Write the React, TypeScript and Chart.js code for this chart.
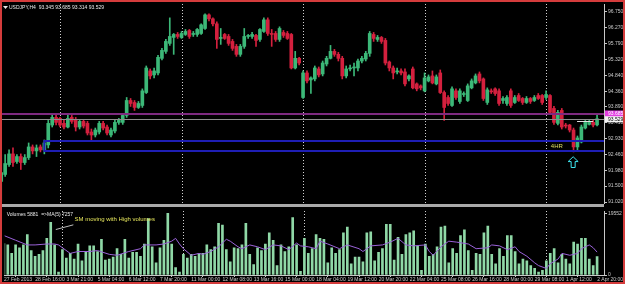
import React, { useEffect, useRef } from "react";
import { Chart, registerables } from "chart.js";

Chart.register(...registerables);

// ---------------- data ----------------
const SYMBOL = "USDJPY,H4";

const OPEN = [
  91.70, 91.64, 91.85, 92.15, 92.47, 92.24, 92.39, 92.21, 92.36, 92.68,
  92.56, 92.68, 92.59, 92.74, 93.34, 93.57, 93.54, 93.39, 93.28, 93.57,
  93.51, 93.28, 93.45, 93.39, 93.13, 93.04, 93.13, 93.39, 93.28, 93.04,
  93.16, 93.42, 93.42, 93.63, 94.08, 94.02, 93.87, 93.93, 94.32, 94.97,
  94.85, 94.91, 95.35, 95.56, 95.80, 95.98, 96.07, 95.98, 96.07, 96.19,
  96.07, 96.07, 96.10, 96.25, 96.66, 96.54, 96.39, 95.95, 96.07, 96.01,
  95.86, 95.71, 95.47, 95.71, 96.01, 96.01, 96.04, 95.92, 96.16, 96.51,
  96.10, 96.10, 95.92, 96.13, 96.10, 96.07, 95.06, 95.35, 94.17, 94.91,
  94.70, 94.73, 95.03, 94.88, 95.18, 95.35, 95.56, 95.47, 95.35, 94.82,
  95.03, 95.06, 95.06, 95.27, 95.33, 95.50, 96.07, 95.92, 95.98, 95.89,
  95.24, 95.06, 94.94, 94.97, 94.94, 94.73, 95.03, 94.58, 94.52, 94.37,
  94.67, 94.82, 94.58, 94.91, 94.32, 94.17, 93.93, 94.37, 94.05, 94.26,
  94.08, 94.46, 94.61, 94.88, 94.73, 94.02, 94.37, 94.43, 94.37, 94.08,
  93.99, 94.37, 94.02, 94.23, 94.14, 94.02, 94.14, 94.08, 94.23, 94.23,
  94.17, 94.23, 93.84, 93.39, 93.78, 93.34, 93.34, 93.19, 92.68, 92.83,
  93.25, 93.36, 93.42, 93.345,
];
const HIGH = [
  92.10, 92.45, 92.45, 92.59, 92.65, 92.45, 92.47, 92.45, 92.80, 92.74,
  92.74, 92.74, 92.89, 93.48, 93.66, 93.63, 93.57, 93.48, 93.63, 93.63,
  93.57, 93.51, 93.51, 93.45, 93.22, 93.25, 93.45, 93.45, 93.34, 93.25,
  93.48, 93.54, 93.69, 94.17, 94.14, 94.08, 94.05, 94.43, 95.12, 95.03,
  95.06, 95.44, 95.65, 95.92, 96.57, 96.10, 96.13, 96.16, 96.22, 96.22,
  96.16, 96.25, 96.39, 96.69, 96.69, 96.57, 96.45, 96.25, 96.10, 96.07,
  95.92, 95.77, 95.77, 96.25, 96.07, 96.13, 96.07, 96.25, 96.57, 96.57,
  96.22, 96.16, 96.30, 96.19, 96.16, 96.10, 95.56, 95.38, 94.97, 94.97,
  94.79, 95.12, 95.09, 95.27, 95.41, 95.74, 95.62, 95.53, 95.41, 95.12,
  95.15, 95.21, 95.33, 95.41, 95.56, 96.16, 96.13, 96.04, 96.01, 95.95,
  95.27, 95.12, 95.06, 95.03, 95.03, 94.85, 95.09, 94.61, 94.55, 94.91,
  94.85, 94.97, 94.85, 95.00, 94.37, 94.23, 94.49, 94.43, 94.43, 94.34,
  94.58, 94.73, 94.88, 94.94, 94.76, 94.46, 94.43, 94.46, 94.43, 94.20,
  94.23, 94.43, 94.23, 94.29, 94.17, 94.20, 94.17, 94.23, 94.29, 94.26,
  94.37, 94.26, 93.90, 93.78, 93.84, 93.39, 93.36, 93.25, 93.01, 93.34,
  93.48, 93.48, 93.51, 93.685,
];
const LOW = [
  91.30, 91.02, 91.79, 92.09, 92.09, 92.18, 92.00, 92.15, 92.30, 92.47,
  92.39, 92.53, 92.47, 92.65, 93.28, 93.34, 93.28, 93.22, 93.25, 93.39,
  93.16, 93.22, 93.25, 93.04, 92.89, 92.98, 93.07, 93.19, 93.04, 92.98,
  93.10, 93.36, 93.36, 93.57, 93.90, 93.78, 93.84, 93.87, 94.29, 94.73,
  94.76, 94.85, 95.30, 95.50, 95.74, 95.47, 95.95, 95.95, 96.04, 95.95,
  96.01, 96.01, 96.07, 96.22, 96.48, 96.33, 95.65, 95.77, 95.92, 95.74,
  95.59, 95.41, 95.41, 95.65, 95.95, 95.95, 95.71, 95.86, 96.13, 96.04,
  95.71, 95.86, 95.86, 95.98, 95.92, 95.03, 95.03, 95.15, 94.14, 94.61,
  94.29, 94.67, 94.79, 94.82, 95.12, 95.33, 95.41, 95.27, 94.73, 94.76,
  94.97, 94.82, 94.97, 95.21, 95.27, 95.41, 95.86, 95.86, 95.80, 95.15,
  94.97, 94.73, 94.88, 94.85, 94.52, 94.67, 94.43, 94.37, 94.40, 94.34,
  94.64, 94.58, 94.55, 94.29, 93.48, 93.93, 93.90, 94.11, 93.99, 94.20,
  94.05, 94.43, 94.58, 94.61, 94.08, 93.96, 94.29, 94.23, 93.93, 93.99,
  93.93, 93.87, 93.99, 94.05, 93.96, 93.99, 93.99, 94.05, 94.11, 93.96,
  94.11, 93.66, 93.36, 93.34, 93.22, 93.25, 93.13, 92.53, 92.59, 92.80,
  93.22, 93.34, 93.28, 93.314,
];
const CLOSE = [
  91.62, 91.91, 92.18, 92.47, 92.21, 92.39, 92.21, 92.36, 92.68, 92.56,
  92.65, 92.59, 92.80, 93.39, 93.57, 93.42, 93.34, 93.28, 93.54, 93.45,
  93.28, 93.45, 93.31, 93.10, 93.04, 93.19, 93.39, 93.25, 93.10, 93.19,
  93.42, 93.48, 93.63, 94.08, 93.99, 93.87, 93.99, 94.37, 95.06, 94.82,
  94.97, 95.38, 95.59, 95.86, 96.01, 96.07, 96.01, 96.10, 96.16, 96.01,
  96.10, 96.22, 96.36, 96.66, 96.54, 96.39, 95.92, 95.98, 95.95, 95.80,
  95.65, 95.47, 95.71, 96.01, 96.04, 96.07, 95.89, 96.22, 96.51, 96.10,
  96.07, 95.92, 96.25, 96.04, 95.95, 95.06, 95.35, 95.21, 94.91, 94.67,
  94.76, 95.06, 94.85, 95.21, 95.35, 95.56, 95.47, 95.35, 94.82, 95.03,
  95.06, 95.09, 95.27, 95.35, 95.50, 96.10, 95.95, 95.98, 95.86, 95.21,
  95.06, 94.91, 94.97, 94.91, 94.58, 94.82, 94.46, 94.43, 94.46, 94.76,
  94.79, 94.61, 94.79, 94.32, 93.87, 93.99, 94.43, 94.17, 94.37, 94.29,
  94.52, 94.67, 94.82, 94.67, 94.14, 94.40, 94.34, 94.29, 93.99, 94.14,
  94.17, 93.93, 94.17, 94.08, 94.02, 94.14, 94.05, 94.17, 94.14, 94.02,
  94.26, 93.72, 93.42, 93.72, 93.28, 93.31, 93.19, 92.68, 92.95, 93.28,
  93.42, 93.42, 93.34, 93.529,
];
const VOLUME = [
  8000, 10000, 9536, 6854, 9536, 8642, 9536, 12814, 7748, 5960,
  6556, 7748, 11622, 16688, 9536, 894, 8046, 5364, 6854, 5066,
  9834, 4470, 7450, 9238, 9238, 7450, 11324, 4768, 5066, 5662,
  8344, 6556, 11324, 5364, 7152, 7152, 5960, 9834, 17880, 8940,
  3874, 8642, 11026, 19552, 9834, 2384, 894, 6556, 5364, 6556,
  5960, 6854, 6854, 9536, 8046, 8940, 16390, 15794, 8046, 4172,
  8642, 8344, 9536, 16390, 6556, 3278, 8642, 7748, 9834, 13410,
  11026, 2980, 9536, 7450, 8940, 18178, 9536, 1192, 11622, 6854,
  8344, 12814, 11622, 11324, 3874, 8642, 6854, 8046, 13410, 15198,
  3576, 5662, 5662, 4172, 13410, 13708, 4470, 7152, 8344, 16092,
  16092, 4768, 11920, 6556, 12814, 13410, 14006, 9238, 1490, 9834,
  5960, 6556, 8940, 15198, 15496, 3874, 8344, 6854, 12516, 14304,
  7748, 1490, 6854, 6556, 13410, 15496, 6556, 3576, 8344, 5960,
  12516, 12516, 7450, 3576, 5066, 4470, 2980, 2086, 894, 1490,
  4470, 6854, 8344, 3874, 6556, 5066, 3576, 10430, 9834, 11622,
  11622, 5066, 2980, 5881,
];
const MA_INDEX = [
  1, 4, 7, 9, 12, 14, 15, 18, 20, 23, 25, 28, 30, 33, 36, 37, 40, 42, 44, 45,
  46, 47, 49, 51, 52, 54, 56, 58, 59, 61, 62, 64, 66, 68, 70, 72, 74, 76, 77, 79,
  81, 82, 84, 87, 89, 92, 93, 95, 98, 100, 102, 104, 106, 109, 110, 111, 113, 115, 117, 120,
  122, 125, 126, 128, 130, 132, 133, 135, 137, 138, 140, 141, 143, 144, 146, 148, 149, 151, 152, 153,
];
const MA_VALUE = [
  12516, 11026, 9536, 9536, 9834, 9834, 9536, 6854, 7450, 7450, 7748, 6556, 6258, 7450, 8344, 9536, 9536, 9834, 10728, 11622,
  9834, 8344, 6258, 6854, 6556, 7450, 8940, 11324, 10728, 8940, 8344, 9536, 8940, 8046, 9536, 9238, 8046, 10132, 9238, 8940,
  8344, 10728, 9834, 8344, 9536, 8344, 7450, 9238, 9536, 10430, 11622, 9536, 9238, 9536, 7450, 6258, 8940, 10728, 10430, 9834,
  8344, 8642, 9536, 9238, 8046, 8940, 7450, 5960, 3874, 2980, 2086, 3576, 5066, 6854, 6258, 6854, 8344, 9536, 8642, 7257,
];
const MA_PERIOD = 5;

const WEEK_START_INDEX = [16, 47, 78, 109, 140];
const TIME_LABEL_INDEX = [0, 8, 16, 24, 32, 40, 48, 56, 64, 72, 80, 88, 96, 104, 112, 120, 128, 136, 144, 152];
const TIME_LABELS = [
  "27 Feb 2013", "28 Feb 16:00", "3 Mar 21:00", "5 Mar 04:00", "6 Mar 12:00",
  "7 Mar 20:00", "11 Mar 00:00", "12 Mar 08:00", "13 Mar 16:00", "15 Mar 00:00",
  "18 Mar 04:00", "19 Mar 12:00", "20 Mar 20:00", "22 Mar 04:00", "25 Mar 08:00",
  "26 Mar 16:00", "28 Mar 00:00", "29 Mar 08:00", "1 Apr 12:00", "2 Apr 20:00",
];
const PRICE_TICKS = [96.75, 96.27, 95.79, 95.32, 94.84, 94.36, 93.89, 93.41, 92.93, 92.46, 91.98, 91.5, 91.02];
const VOLUME_TICKS = [0, 19552];

const MARK_PRICE = 93.685;
const ZONE_START_INDEX = 12;
const ZONE_TOP = 92.86;
const ZONE_BOTTOM = 92.57;
const SEGMENT_INDEX = [147.9, 152];
const SEGMENT_PRICE = 93.454;
const NOTE_4HR = { index: 141.2, price: 92.71, text: "4HR" };
const ARROW_AT = { index: 146.9, top: 92.385, bottom: 92.06 };
const SM_NOTE = { text: "SM moving with High volumes", index: 19.1, volume: 17760 };
const SM_POINTER = { from: [14.3, 14418], to: [18.8, 15910] };

// ---------------- view ----------------
const X_MIN = 1.199;
const X_MAX = 154.77;
const P_MIN = 90.9903;
const P_MAX = 96.9875;
const V_MAX = 20298;
const FONT = '"Liberation Sans", Arial, sans-serif';
const BULL = "#3cb878";
const BEAR = "#d4203e";
const AXIS = "#c8c8c8";

function drawSeparators(chart: any) {
  const { ctx, chartArea: a, scales } = chart;
  const x = scales.x;
  ctx.save();
  ctx.strokeStyle = "#d0d0d0";
  ctx.lineWidth = 1;
  ctx.setLineDash([1, 2]);
  for (const i of WEEK_START_INDEX) {
    const px = Math.round(x.getPixelForValue(i)) + 0.5;
    ctx.beginPath();
    ctx.moveTo(px, a.top);
    ctx.lineTo(px, a.bottom);
    ctx.stroke();
  }
  ctx.restore();
}

const priceOverlay = {
  id: "priceOverlay",
  beforeDatasetsDraw(chart: any) {
    drawSeparators(chart);
  },
  afterDatasetsDraw(chart: any) {
    const { ctx, chartArea: a, scales } = chart;
    const x = scales.x;
    const y = scales.y;
    const last = OPEN.length - 1;
    ctx.save();
    ctx.beginPath();
    ctx.rect(a.left, a.top, a.right - a.left, a.bottom - a.top);
    ctx.clip();
    // purple horizontal line
    const ym = Math.round(y.getPixelForValue(MARK_PRICE));
    ctx.fillStyle = "#7e2a80";
    ctx.fillRect(a.left, ym - 1, a.right - a.left, 2);
    // bid line
    const yb = Math.round(y.getPixelForValue(CLOSE[last])) + 0.5;
    ctx.strokeStyle = "#8e8e8e";
    ctx.lineWidth = 1;
    ctx.beginPath();
    ctx.moveTo(a.left, yb);
    ctx.lineTo(a.right, yb);
    ctx.stroke();
    // blue zone
    const zx = x.getPixelForValue(ZONE_START_INDEX);
    const zt = Math.round(y.getPixelForValue(ZONE_TOP));
    const zb = Math.round(y.getPixelForValue(ZONE_BOTTOM));
    ctx.strokeStyle = "#1e1eb4";
    ctx.lineWidth = 2;
    ctx.strokeRect(zx, zt, a.right + 20 - zx, zb - zt);
    // short white segment
    const sy = Math.round(y.getPixelForValue(SEGMENT_PRICE)) + 0.5;
    ctx.strokeStyle = "#e0e0e0";
    ctx.lineWidth = 1;
    ctx.beginPath();
    ctx.moveTo(x.getPixelForValue(SEGMENT_INDEX[0]), sy);
    ctx.lineTo(x.getPixelForValue(SEGMENT_INDEX[1]), sy);
    ctx.stroke();
    // 4HR
    ctx.fillStyle = "#dede62";
    ctx.font = `6px ${FONT}`;
    ctx.textBaseline = "middle";
    ctx.textAlign = "left";
    ctx.fillText(NOTE_4HR.text, x.getPixelForValue(NOTE_4HR.index), y.getPixelForValue(NOTE_4HR.price));
    // cyan arrow
    const ax = x.getPixelForValue(ARROW_AT.index);
    const at = y.getPixelForValue(ARROW_AT.top);
    const ab = y.getPixelForValue(ARROW_AT.bottom);
    const h = ab - at;
    ctx.strokeStyle = "#3ee6f0";
    ctx.lineWidth = 1;
    ctx.beginPath();
    ctx.moveTo(ax, at);
    ctx.lineTo(ax + 5, at + h * 0.45);
    ctx.lineTo(ax + 2, at + h * 0.45);
    ctx.lineTo(ax + 2, ab);
    ctx.lineTo(ax - 2, ab);
    ctx.lineTo(ax - 2, at + h * 0.45);
    ctx.lineTo(ax - 5, at + h * 0.45);
    ctx.closePath();
    ctx.stroke();
    ctx.restore();

    // title
    ctx.save();
    ctx.fillStyle = "#e8e8e8";
    ctx.beginPath();
    ctx.moveTo(a.left + 1, a.top + 2);
    ctx.lineTo(a.left + 6, a.top + 2);
    ctx.lineTo(a.left + 3.5, a.top + 5);
    ctx.closePath();
    ctx.fill();
    ctx.font = `5px ${FONT}`;
    ctx.textBaseline = "middle";
    ctx.textAlign = "left";
    const title = `${SYMBOL}  ${OPEN[last].toFixed(3)} ${HIGH[last].toFixed(3)} ${LOW[last].toFixed(3)} ${CLOSE[last].toFixed(3)}`;
    ctx.fillText(title, a.left + 7, a.top + 3.5);

    // axis price labels
    const lx = a.right + 1;
    const w = chart.width - lx;
    ctx.fillStyle = "#e23ce0";
    ctx.fillRect(lx, ym - 3.5, w, 6.5);
    ctx.fillStyle = "#ffffff";
    ctx.fillText(MARK_PRICE.toFixed(3), lx + 3, ym);
    const yc = y.getPixelForValue(CLOSE[last]);
    ctx.fillStyle = "#f4f4f4";
    ctx.fillRect(lx, yc - 2.5, w, 6);
    ctx.fillStyle = "#000000";
    ctx.fillText(CLOSE[last].toFixed(3), lx + 3, yc + 0.5);
    ctx.restore();
  },
};

const volumeOverlay = {
  id: "volumeOverlay",
  beforeDatasetsDraw(chart: any) {
    drawSeparators(chart);
  },
  afterDatasetsDraw(chart: any) {
    const { ctx, chartArea: a, scales } = chart;
    const x = scales.x;
    const y = scales.y;
    const last = VOLUME.length - 1;
    ctx.save();
    ctx.font = `5px ${FONT}`;
    ctx.fillStyle = "#e8e8e8";
    ctx.textBaseline = "middle";
    ctx.textAlign = "left";
    ctx.fillText(`Volumes ${VOLUME[last]}  =>MA(${MA_PERIOD}) ${MA_VALUE[MA_VALUE.length - 1]}`, a.left + 2, a.top + 3.5);
    ctx.strokeStyle = "#bdbdbd";
    ctx.lineWidth = 1;
    ctx.beginPath();
    ctx.moveTo(x.getPixelForValue(SM_POINTER.from[0]), y.getPixelForValue(SM_POINTER.from[1]));
    ctx.lineTo(x.getPixelForValue(SM_POINTER.to[0]), y.getPixelForValue(SM_POINTER.to[1]));
    ctx.stroke();
    ctx.font = `6px ${FONT}`;
    ctx.fillStyle = "#e6e65c";
    ctx.fillText(SM_NOTE.text, x.getPixelForValue(SM_NOTE.index), y.getPixelForValue(SM_NOTE.volume));
    ctx.restore();
  },
};

export default function App() {
  const priceRef = useRef<HTMLCanvasElement | null>(null);
  const volRef = useRef<HTMLCanvasElement | null>(null);

  useEffect(() => {
    const INDEX = OPEN.map((_, i) => i);
    const candleColors = INDEX.map((i) => (CLOSE[i] >= OPEN[i] ? BULL : BEAR));
    const tickFont = { family: FONT, size: 5 };

    const price = new Chart(priceRef.current as HTMLCanvasElement, {
      type: "bar",
      data: {
        datasets: [
          {
            label: "wick",
            data: INDEX.map((i) => ({ x: i, y: [LOW[i], HIGH[i]] })),
            backgroundColor: candleColors,
            barThickness: 1,
            grouped: false,
            minBarLength: 1,
            order: 2,
          } as any,
          {
            label: "body",
            data: INDEX.map((i) => ({ x: i, y: [OPEN[i], CLOSE[i]] })),
            backgroundColor: candleColors,
            barThickness: 3,
            grouped: false,
            minBarLength: 1,
            order: 1,
          } as any,
        ],
      },
      options: {
        animation: false,
        responsive: false,
        maintainAspectRatio: false,
        devicePixelRatio: 1,
        events: [],
        layout: { padding: { left: 2, top: 2, right: 0, bottom: 3 } },
        plugins: { legend: { display: false }, tooltip: { enabled: false } },
        scales: {
          x: { type: "linear", display: false, min: X_MIN, max: X_MAX, offset: false },
          y: {
            type: "linear",
            position: "right",
            min: P_MIN,
            max: P_MAX,
            afterBuildTicks: (s: any) => {
              s.ticks = PRICE_TICKS.map((v) => ({ value: v }));
            },
            afterFit: (s: any) => {
              s.width = 21;
            },
            ticks: {
              autoSkip: false,
              color: AXIS,
              font: tickFont,
              padding: 1,
              callback: (v: any) => Number(v).toFixed(3),
            },
            grid: { drawOnChartArea: false, drawTicks: true, tickLength: 3, color: AXIS },
            border: { display: true, color: AXIS, width: 1 },
          },
        },
      } as any,
      plugins: [priceOverlay],
    });

    const volume = new Chart(volRef.current as HTMLCanvasElement, {
      type: "bar",
      data: {
        datasets: [
          {
            type: "line",
            label: "MA",
            data: MA_INDEX.map((x, k) => ({ x, y: MA_VALUE[k] })),
            borderColor: "#9a62d8",
            borderWidth: 1,
            pointRadius: 0,
            tension: 0,
            order: 1,
          } as any,
          {
            type: "bar",
            label: "Volumes",
            data: INDEX.map((i) => ({ x: i, y: VOLUME[i] })),
            backgroundColor: "#8fd8a6",
            barThickness: 2,
            grouped: false,
            order: 2,
          } as any,
        ],
      },
      options: {
        animation: false,
        responsive: false,
        maintainAspectRatio: false,
        devicePixelRatio: 1,
        events: [],
        layout: { padding: { left: 2, top: 0, right: 0, bottom: 0 } },
        plugins: { legend: { display: false }, tooltip: { enabled: false } },
        scales: {
          x: {
            type: "linear",
            position: "bottom",
            min: X_MIN,
            max: X_MAX,
            offset: false,
            afterBuildTicks: (s: any) => {
              s.ticks = TIME_LABEL_INDEX.map((v) => ({ value: v }));
            },
            afterFit: (s: any) => {
              s.height = 9;
            },
            ticks: {
              autoSkip: false,
              maxRotation: 0,
              minRotation: 0,
              align: "start",
              labelOffset: 4,
              padding: 0,
              color: AXIS,
              font: tickFont,
              callback: (v: any) => TIME_LABELS[TIME_LABEL_INDEX.indexOf(Number(v))],
            },
            grid: { drawOnChartArea: false, drawTicks: true, tickLength: 2, color: AXIS },
            border: { display: true, color: AXIS, width: 1 },
          },
          y: {
            type: "linear",
            position: "right",
            min: 0,
            max: V_MAX,
            afterBuildTicks: (s: any) => {
              s.ticks = VOLUME_TICKS.map((v) => ({ value: v }));
            },
            afterFit: (s: any) => {
              s.width = 21;
            },
            ticks: { autoSkip: false, color: AXIS, font: tickFont, padding: 1, callback: (v: any) => String(v) },
            grid: { drawOnChartArea: false, drawTicks: true, tickLength: 3, color: AXIS },
            border: { display: true, color: AXIS, width: 1 },
          },
        },
      } as any,
      plugins: [volumeOverlay],
    });

    return () => {
      price.destroy();
      volume.destroy();
    };
  }, []);

  return (
    <div style={{ position: "fixed", left: 0, top: 0, width: 625, height: 284, background: "#000", overflow: "hidden" }}>
      <div style={{ position: "absolute", left: 0, top: 0, width: 625, height: 207 }}>
        <canvas ref={priceRef} width={625} height={207} style={{ width: 625, height: 207, display: "block" }} />
      </div>
      <div style={{ position: "absolute", left: 2, top: 204, width: 602, height: 3, background: "#a9a9a9" }} />
      <div style={{ position: "absolute", left: 0, top: 207, width: 625, height: 77 }}>
        <canvas ref={volRef} width={625} height={77} style={{ width: 625, height: 77, display: "block" }} />
      </div>
      <div
        style={{
          position: "absolute",
          left: 0,
          top: 0,
          width: 625,
          height: 284,
          boxSizing: "border-box",
          border: "2px solid #d43c3c",
          pointerEvents: "none",
        }}
      />
    </div>
  );
}
